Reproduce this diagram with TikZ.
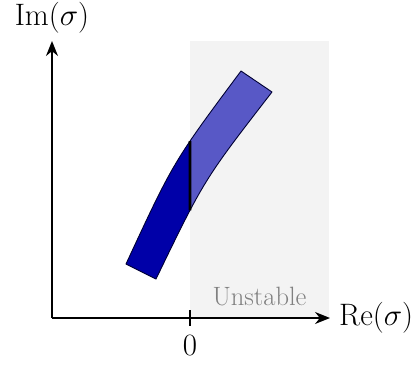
\RequirePackage{fix-cm}
\documentclass[tikz,border=0pt]{standalone}
\usetikzlibrary{arrows.meta,intersections}
\definecolor{regiongray}{HTML}{F3F3F3}
\definecolor{bandlight}{HTML}{5858C6}
\definecolor{banddark}{HTML}{0000A8}
\definecolor{labelgray}{HTML}{808080}
\tikzset{
  axis/.style={line width=1.6pt,-{Stealth[length=15pt,width=12pt]}},
  biglabel/.style={font=\fontsize{31}{35}\selectfont,inner sep=0pt},
  bandedge/.style={draw=black!80!blue,line width=0.9pt},
}
\begin{document}
\begin{tikzpicture}[x=1pt,y=-1pt]
\useasboundingbox (0,0) rectangle (414,364);
% unstable region
\fill[regiongray] (190,41) rectangle (329,318);
\node[font=\fontsize{26.5}{30}\selectfont,text=labelgray,inner sep=0pt,anchor=base] (unst) at (259.5,305) {Unstable};
% band
\path[name path=leftedge] (126,264) .. controls (173.5,161.6) .. (241,71);
\path[name path=rightedge] (156,279) .. controls (204.2,179.5) .. (272,92);
\path[name path=vline] (190,20) -- (190,330);
\path[name intersections={of=leftedge and vline,by=cuttop}];
\path[name intersections={of=rightedge and vline,by=cutbot}];
\fill[bandlight] (126,264) .. controls (173.5,161.6) .. (241,71) -- (272,92) .. controls (204.2,179.5) .. (156,279) -- cycle;
\begin{scope}
\clip (0,0) rectangle (190,364);
\fill[banddark] (126,264) .. controls (173.5,161.6) .. (241,71) -- (272,92) .. controls (204.2,179.5) .. (156,279) -- cycle;
\end{scope}
\draw[bandedge,line join=round] (126,264) .. controls (173.5,161.6) .. (241,71) -- (272,92) .. controls (204.2,179.5) .. (156,279) -- cycle;
\draw[line width=2.6pt] (cuttop) -- (cutbot);
% axes
\coordinate (origin) at (52,318);
\coordinate (xend) at (330,318);
\coordinate (yend) at (52,41);
\draw[axis] (origin) -- (xend);
\draw[axis] (origin) -- (yend);
\node[biglabel,anchor=west] (re) at (339,318) {Re$(\sigma)$};
\node[biglabel] (im) at (52,18) {Im$(\sigma)$};
% tick
\coordinate (ticktop) at (190,310);
\coordinate (tickbot) at (190,326);
\draw[line width=1.2pt] (ticktop) -- (tickbot);
\node[biglabel] (zero) at (190,345) {0};
\end{tikzpicture}
\end{document}
